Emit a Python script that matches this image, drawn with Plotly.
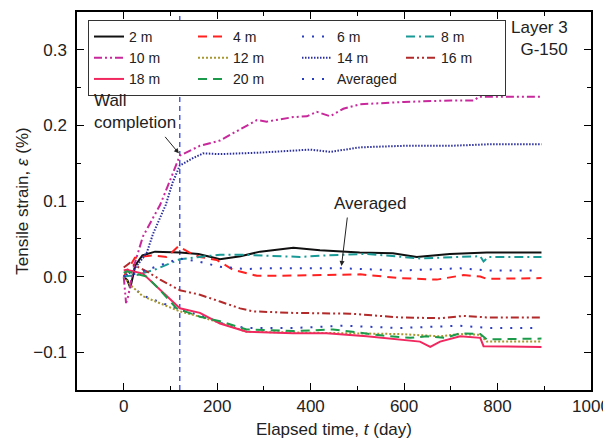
import plotly.graph_objects as go

# ---------------- data ----------------
t_2m = [0, 8, 14, 25, 40, 67, 120, 160, 206, 250, 292, 363, 420, 469, 505, 576, 627, 698, 777, 894]
v_2m = [0.0, -0.005, -0.015, 0.015, 0.028, 0.033, 0.032, 0.030, 0.023, 0.027, 0.033, 0.038, 0.035, 0.033, 0.032, 0.031, 0.026, 0.030, 0.032, 0.032]

t_4m = [0, 10, 24, 60, 92, 117, 140, 163, 199, 234, 285, 327, 399, 448, 506, 591, 670, 727, 763, 777, 894]
v_4m = [0.0, 0.010, 0.025, 0.028, 0.026, 0.040, 0.032, 0.026, 0.022, 0.009, 0.001, 0.001, 0.002, 0.002, 0.003, -0.002, -0.004, 0.002, 0.0, -0.003, -0.002]

t_6m = [0, 14, 41, 78, 120, 163, 220, 263, 363, 470, 591, 720, 780, 880]
v_6m = [0.0, -0.011, -0.025, -0.034, -0.044, -0.051, -0.064, -0.068, -0.068, -0.065, -0.068, -0.065, -0.068, -0.068]

t_8m = [0, 28, 70, 120, 163, 206, 249, 327, 377, 434, 506, 520, 634, 685, 763, 770, 780, 894]
v_8m = [0.0, 0.002, 0.010, 0.023, 0.026, 0.029, 0.029, 0.027, 0.026, 0.028, 0.030, 0.030, 0.024, 0.025, 0.027, 0.020, 0.026, 0.026]

t_10m = [0, 5, 10, 20, 41, 60, 78, 99, 110, 120, 163, 206, 235, 285, 306, 363, 392, 413, 442, 470, 506, 600, 700, 750, 760, 894]
v_10m = [0.0, -0.035, -0.025, 0.010, 0.053, 0.075, 0.095, 0.127, 0.143, 0.160, 0.173, 0.180, 0.190, 0.207, 0.205, 0.211, 0.212, 0.218, 0.212, 0.222, 0.228, 0.231, 0.233, 0.233, 0.238, 0.238]

t_12m = [0, 14, 41, 78, 120, 163, 206, 263, 363, 484, 591, 677, 720, 763, 777, 894]
v_12m = [0.0, -0.011, -0.026, -0.035, -0.046, -0.053, -0.061, -0.073, -0.074, -0.075, -0.076, -0.079, -0.076, -0.077, -0.086, -0.086]

t_14m = [0, 20, 49, 63, 90, 105, 120, 149, 170, 206, 292, 399, 442, 506, 600, 700, 780, 894]
v_14m = [0.0, 0.008, 0.031, 0.057, 0.095, 0.125, 0.147, 0.157, 0.163, 0.162, 0.164, 0.168, 0.165, 0.171, 0.173, 0.173, 0.175, 0.175]

t_16m = [0, 13, 49, 78, 120, 163, 206, 249, 277, 363, 484, 591, 677, 727, 777, 894]
v_16m = [0.012, 0.018, 0.007, -0.004, -0.018, -0.024, -0.033, -0.042, -0.046, -0.048, -0.049, -0.054, -0.055, -0.052, -0.054, -0.054]

t_18m = [0, 6, 41, 78, 120, 163, 206, 263, 363, 434, 520, 634, 656, 677, 720, 763, 770, 894]
v_18m = [0.008, 0.009, 0.004, -0.018, -0.042, -0.048, -0.062, -0.073, -0.075, -0.075, -0.079, -0.086, -0.093, -0.086, -0.079, -0.081, -0.092, -0.093]

t_20m = [0, 6, 49, 78, 113, 163, 206, 263, 363, 448, 555, 613, 648, 688, 720, 763, 777, 894]
v_20m = [0.005, 0.007, 0.0, -0.018, -0.042, -0.053, -0.059, -0.070, -0.072, -0.070, -0.078, -0.081, -0.079, -0.081, -0.075, -0.076, -0.083, -0.082]

t_avg = [0, 20, 64, 100, 120, 160, 206, 263, 300, 377, 469, 591, 720, 780, 880]
v_avg = [0.0, 0.003, 0.012, 0.020, 0.024, 0.020, 0.013, 0.010, 0.011, 0.011, 0.011, 0.008, 0.011, 0.008, 0.008]

series_names = ["2 m", "4 m", "6 m", "8 m", "10 m", "12 m", "14 m", "16 m", "18 m", "20 m", "Averaged"]
wall_completion_day = 120
x_ticks = [0, 200, 400, 600, 800, 1000]
y_ticks = [-0.1, 0.0, 0.1, 0.2, 0.3]

# ---------------- styles ----------------
FONT = "Liberation Sans, Arial, Helvetica, sans-serif"
styles = {
    "2 m": dict(color="#111111", dash="solid", width=2),
    "4 m": dict(color="#ff2020", dash="9px,6px", width=2),
    "6 m": dict(color="#2a3cc0", dash="2px,8px", width=2),
    "8 m": dict(color="#1a9a96", dash="9px,4px,2px,4px", width=2),
    "10 m": dict(color="#c8289b", dash="8px,3px,2px,3px,2px,3px", width=2),
    "12 m": dict(color="#a8982e", dash="2px,2px", width=2),
    "14 m": dict(color="#2b2f9e", dash="1.5px,1.5px", width=2),
    "16 m": dict(color="#b22a2a", dash="8px,3px,2px,3px,2px,3px", width=2),
    "18 m": dict(color="#f0285f", dash="solid", width=2),
    "20 m": dict(color="#1a9a4a", dash="9px,6px", width=2),
    "Averaged": dict(color="#2a3cc0", dash="2px,8px", width=2),
}
data = {
    "2 m": (t_2m, v_2m), "4 m": (t_4m, v_4m), "6 m": (t_6m, v_6m), "8 m": (t_8m, v_8m),
    "10 m": (t_10m, v_10m), "12 m": (t_12m, v_12m), "14 m": (t_14m, v_14m), "16 m": (t_16m, v_16m),
    "18 m": (t_18m, v_18m), "20 m": (t_20m, v_20m), "Averaged": (t_avg, v_avg),
}

fig = go.Figure()
for name in series_names:
    tx, vy = data[name]
    fig.add_trace(go.Scatter(x=tx, y=vy, mode="lines", name=name, line=styles[name]))

fig.add_shape(type="line", xref="x", yref="paper", x0=wall_completion_day, x1=wall_completion_day,
              y0=0, y1=1, line=dict(color="#1f35d8", width=1.2, dash="5px,4px"), layer="below")

axis_common = dict(
    showline=True, linecolor="black", linewidth=1.5, mirror="allticks",
    ticks="inside", ticklen=7, tickwidth=1.2, tickcolor="black",
    showgrid=False, zeroline=False, automargin=False,
    tickfont=dict(family=FONT, size=17, color="#222"),
)

fig.update_xaxes(range=[-100, 1000], tickvals=x_ticks,
                 minor=dict(dtick=100, tick0=0, ticks="inside", ticklen=4, tickcolor="black"),
                 title=dict(text="Elapsed time, <i>t</i> (day)", font=dict(family=FONT, size=17, color="#222"), standoff=8),
                 **axis_common)
fig.update_yaxes(range=[-0.15, 0.35], tickvals=y_ticks, tickformat=".1f",
                 minor=dict(dtick=0.05, tick0=0, ticks="inside", ticklen=4, tickcolor="black"),
                 ticklabelstandoff=5,
                 title=dict(text="Tensile strain, <i>ε</i> (%)", font=dict(family=FONT, size=17, color="#222"), standoff=0),
                 **axis_common)

ann_font = dict(family=FONT, size=17, color="#222")
fig.add_annotation(x=-68, y=0.219, xref="x", yref="y", text="Wall<br>completion", showarrow=False,
                   xanchor="left", yanchor="middle", align="left", font=ann_font)
fig.add_annotation(x=118, y=0.163, xref="x", yref="y", text="", showarrow=True,
                   ax=-15, ay=-18, arrowhead=2, arrowsize=1, arrowwidth=1, arrowcolor="#222")
fig.add_annotation(x=527, y=0.097, xref="x", yref="y", text="Averaged", showarrow=False,
                   xanchor="center", yanchor="middle", font=ann_font)
fig.add_annotation(x=466, y=0.014, xref="x", yref="y", text="", showarrow=True,
                   ax=6, ay=-50, arrowhead=2, arrowsize=1, arrowwidth=1, arrowcolor="#222")
fig.add_annotation(x=0.959, y=0.93, xref="paper", yref="paper", text="Layer 3<br>G-150", showarrow=False,
                   xanchor="right", yanchor="middle", align="right", font=ann_font)

# the page body has an 8px margin, so the figure is drawn 8px in from the top-left corner
fig.update_layout(
    width=603, height=437,
    margin=dict(l=69, r=20, t=4, b=55, autoexpand=False),
    paper_bgcolor="white", plot_bgcolor="white",
    font=dict(family=FONT, size=14, color="#222"),
    showlegend=True,
    legend=dict(orientation="h", x=0.0214, y=0.979, xanchor="left", yanchor="top",
                entrywidth=59, entrywidthmode="pixels",
                bgcolor="white", bordercolor="#333", borderwidth=1,
                font=dict(family=FONT, size=14, color="#222"),
                itemwidth=30, tracegroupgap=0),
)

fig.write_html("out.html")
